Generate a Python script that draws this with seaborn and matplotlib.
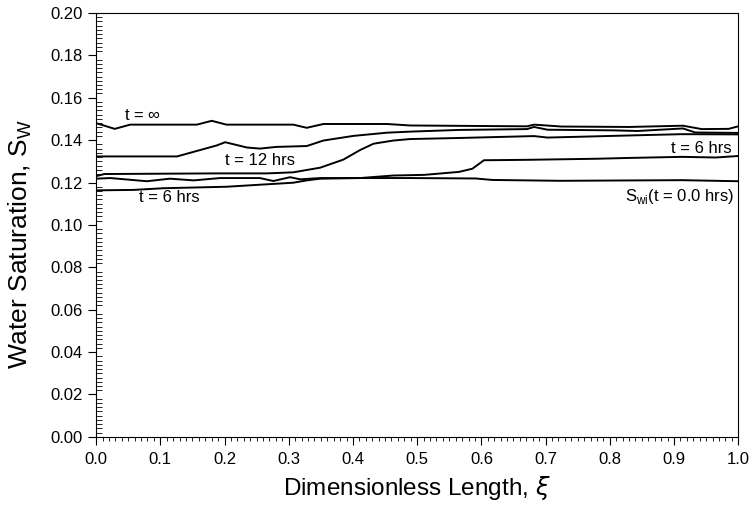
import numpy as np
import pandas as pd
import seaborn as sns
import matplotlib.pyplot as plt
from matplotlib.ticker import MultipleLocator

# curves: dimensionless length vs water saturation
xi_inf = [0.0, 0.029, 0.053, 0.157, 0.18, 0.203, 0.307, 0.328, 0.354, 0.453, 0.489,
          0.671, 0.682, 0.725, 0.83, 0.914, 0.943, 0.985, 1.0]
sw_inf = [0.148, 0.1453, 0.1473, 0.1473, 0.1491, 0.1473, 0.1473, 0.1458, 0.1476, 0.1476, 0.1469,
          0.1465, 0.1473, 0.1464, 0.1462, 0.1468, 0.1452, 0.1453, 0.1465]

xi_a = [0.0, 0.126, 0.188, 0.201, 0.235, 0.255, 0.281, 0.328, 0.354, 0.401, 0.453, 0.489,
        0.565, 0.671, 0.682, 0.703, 0.805, 0.843, 0.914, 0.933, 1.0]
sw_a = [0.1323, 0.1323, 0.1375, 0.139, 0.1365, 0.136, 0.1368, 0.1372, 0.1398, 0.142, 0.1435, 0.144,
        0.1448, 0.1452, 0.1462, 0.1449, 0.1446, 0.1443, 0.1455, 0.1436, 0.1434]

xi_b = [0.0, 0.013, 0.188, 0.266, 0.307, 0.349, 0.385, 0.411, 0.432, 0.463, 0.489,
        0.565, 0.682, 0.703, 0.832, 0.912, 1.0]
sw_b = [0.123, 0.124, 0.1243, 0.1243, 0.1248, 0.127, 0.1308, 0.1353, 0.1383, 0.1398, 0.1405,
        0.141, 0.1419, 0.1412, 0.1422, 0.1428, 0.1427]

xi_wi = [0.0, 0.022, 0.079, 0.115, 0.152, 0.193, 0.255, 0.276, 0.302, 0.318, 0.349, 0.489,
         0.591, 0.617, 0.723, 0.912, 1.0]
sw_wi = [0.1218, 0.1221, 0.1206, 0.1218, 0.121, 0.1221, 0.1221, 0.1207, 0.1225, 0.1215, 0.1221, 0.1221,
         0.1219, 0.1212, 0.1208, 0.1211, 0.1206]

xi_6 = [0.0, 0.058, 0.105, 0.203, 0.307, 0.328, 0.349, 0.411, 0.463, 0.511, 0.565, 0.586, 0.604,
        0.671, 0.778, 0.832, 0.912, 0.965, 1.0]
sw_6 = [0.1163, 0.1165, 0.1173, 0.118, 0.1199, 0.121, 0.1218, 0.1221, 0.1233, 0.1236, 0.125, 0.1265, 0.1305,
        0.1307, 0.1312, 0.1316, 0.1321, 0.1318, 0.1325]

curves = {'inf': (xi_inf, sw_inf), 'a': (xi_a, sw_a), 'b': (xi_b, sw_b),
          'wi': (xi_wi, sw_wi), '6': (xi_6, sw_6)}
df = pd.concat([pd.DataFrame({'xi': x, 'sw': y, 'curve': k}) for k, (x, y) in curves.items()])

sns.set_style('ticks')
plt.rcParams['font.family'] = ['Liberation Sans', 'DejaVu Sans']
plt.rcParams['mathtext.fontset'] = 'custom'
plt.rcParams['mathtext.rm'] = 'Liberation Sans'
plt.rcParams['text.color'] = 'black'
plt.rcParams['axes.labelcolor'] = 'black'

fig = plt.figure(figsize=(7.51, 5.17), dpi=100)
ax = fig.add_axes([0.128, 0.155, 0.855, 0.82])

sns.lineplot(data=df, x='xi', y='sw', units='curve', estimator=None, color='black',
             linewidth=1.4, ax=ax)

ax.set_xlim(0, 1.0)
ax.set_ylim(0, 0.20)
ax.xaxis.set_major_locator(MultipleLocator(0.1))
ax.xaxis.set_minor_locator(MultipleLocator(0.01))
ax.yaxis.set_major_locator(MultipleLocator(0.02))
ax.yaxis.set_minor_locator(MultipleLocator(0.002))
ax.xaxis.set_major_formatter(plt.FormatStrFormatter('%.1f'))
ax.yaxis.set_major_formatter(plt.FormatStrFormatter('%.2f'))
ax.tick_params(axis='both', which='major', direction='out', length=6, width=0.8,
               labelsize=12, color='black', labelcolor='black')
ax.tick_params(axis='x', which='major', pad=5)
ax.tick_params(axis='x', which='minor', direction='out', length=3, width=0.6, color='black')
ax.tick_params(axis='y', which='minor', direction='in', length=4, width=0.6, color='black')
for s in ax.spines.values():
    s.set_linewidth(0.8)
    s.set_color('black')

ax.set_xlabel(r'Dimensionless Length, $\xi$', fontsize=17.5, color='black')
ax.set_ylabel(r'Water Saturation, S$_\mathregular{W}$', fontsize=19, color='black')
ax.xaxis.set_label_coords(0.5, -0.088)
ax.yaxis.set_label_coords(-0.097, 0.455)

ax.text(0.043, 0.1518, r't = $\infty$', fontsize=12, va='center', color='black')
ax.text(0.2, 0.1302, 't = 12 hrs', fontsize=12, va='center', color='black')
ax.text(0.066, 0.1128, 't = 6 hrs', fontsize=12, va='center', color='black')
ax.text(0.99, 0.136, 't = 6 hrs', fontsize=12, va='center', ha='right', color='black')
ax.text(0.993, 0.1134, r'S$_\mathregular{wi}$(t = 0.0 hrs)', fontsize=12, va='center', ha='right',
        color='black')

fig.savefig('out.png', dpi=100)
